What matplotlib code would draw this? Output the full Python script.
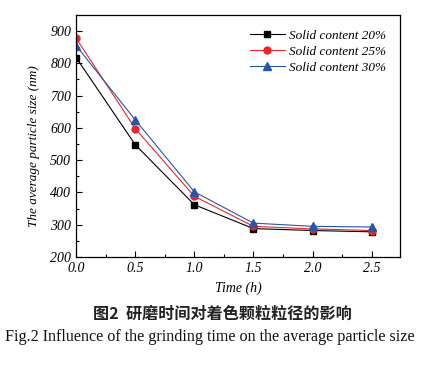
import matplotlib
matplotlib.use("Agg")
import matplotlib.pyplot as plt
from matplotlib.ticker import MultipleLocator

time_h = [0.0, 0.5, 1.0, 1.5, 2.0, 2.5]
s20 = [818, 548, 362, 288, 282, 278]
s25 = [878, 598, 388, 295, 287, 282]
s30 = [855, 625, 402, 305, 295, 293]
labels = ["Solid content 20%", "Solid content 25%", "Solid content 30%"]
xticks = [0.0, 0.5, 1.0, 1.5, 2.0, 2.5]
yticks = [200, 300, 400, 500, 600, 700, 800, 900]

fig = plt.figure(figsize=(4.45, 3.73), dpi=100)
ax = fig.add_axes([0.171, 0.311, 0.728, 0.649])

serif_it = dict(family="Liberation Serif", style="italic")
ax.plot(time_h, s20, color="black", marker="s", ms=5, lw=0.8, label=labels[0])
ax.plot(time_h, s25, color="#e8262c", marker="o", ms=5, lw=0.8, label=labels[1])
ax.plot(time_h, s30, color="#2756a6", marker="^", ms=5.5, lw=0.8, label=labels[2])

ax.set_xlim(0, 2.74)
ax.set_ylim(200, 950)
ax.set_xticks(xticks)
ax.set_yticks(yticks)
ax.xaxis.set_minor_locator(MultipleLocator(0.25))
ax.yaxis.set_minor_locator(MultipleLocator(50))
ax.tick_params(which="both", direction="in", top=False, right=False)
ax.tick_params(which="major", length=4, width=0.8)
ax.tick_params(which="minor", length=2.5, width=0.8)
ax.set_xticklabels([f"{v:.1f}" for v in xticks], fontsize=10, **serif_it)
ax.set_yticklabels([str(v) for v in yticks], fontsize=10, **serif_it)
for s in ax.spines.values():
    s.set_linewidth(0.9)

ax.set_xlabel("Time (h)", fontsize=10, labelpad=5, **serif_it)
ax.set_ylabel("The average particle size (nm)", fontsize=9.5, **serif_it)
ax.yaxis.set_label_coords(-0.112, 0.46)

leg = ax.legend(loc="upper right", frameon=False, prop=dict(family="Liberation Serif", style="italic", size=9.5),
                handlelength=2.6, handletextpad=0.3, labelspacing=0.3, borderaxespad=0.7)

fig.text(0.5, 0.158, "图2  研磨时间对着色颗粒粒径的影响", ha="center", va="center",
         fontsize=11.6, family=["Noto Sans CJK SC", "DejaVu Sans"], fontweight="bold", color="#222222")
fig.text(0.012, 0.096, "Fig.2 Influence of the grinding time on the average particle size", ha="left", va="center",
         fontsize=11.6, family="Liberation Serif", color="#111111")

fig.savefig("out.png", dpi=100)
